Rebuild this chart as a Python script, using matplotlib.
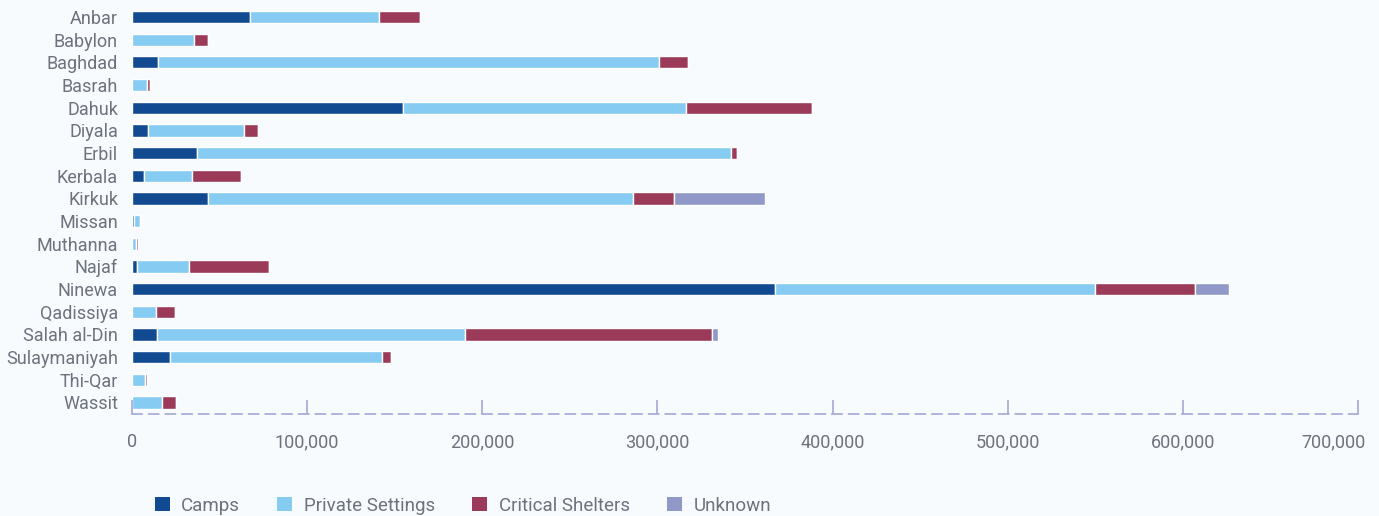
import numpy as np
import matplotlib.pyplot as plt
import matplotlib.transforms as mtransforms
from matplotlib.ticker import FuncFormatter
from matplotlib.patches import Patch

plt.rcParams['font.family'] = ['Roboto', 'DejaVu Sans']

# governorates, top to bottom
governorates = ["Anbar", "Babylon", "Baghdad", "Basrah", "Dahuk", "Diyala", "Erbil",
                "Kerbala", "Kirkuk", "Missan", "Muthanna", "Najaf", "Ninewa",
                "Qadissiya", "Salah al-Din", "Sulaymaniyah", "Thi-Qar", "Wassit"]

camps = [67400, 0, 14900, 0, 154800, 9000, 37000, 6900, 43400, 1100, 0, 2900,
         366900, 0, 14300, 21700, 0, 0]
private_settings = [73900, 35400, 286000, 8600, 161700, 54800, 305000, 27400, 242900,
                    3400, 2300, 29700, 182800, 13700, 176000, 121000, 7400, 17100]
critical_shelters = [23200, 8000, 16600, 1700, 72000, 8000, 3400, 28000, 23000,
                     600, 1300, 45700, 57300, 10900, 141000, 5100, 1000, 8000]
unknown = [0, 0, 0, 0, 0, 0, 0, 0, 52300, 0, 0, 0, 19300, 0, 3400, 0, 0, 0]

series_names = ["Camps", "Private Settings", "Critical Shelters", "Unknown"]
series_colors = ["#124a91", "#85cbf2", "#9b3a59", "#8f98c6"]

bg = "#f7fbfe"
txt = "#6d727c"
axis_col = "#a3a8d6"

fig = plt.figure(figsize=(13.79, 5.16), dpi=100, facecolor=bg)
ax = fig.add_axes([0.0957, 0.198, 0.889, 0.791], facecolor=bg)

y = np.arange(len(governorates))
left = np.zeros(len(governorates))
for vals, name, col in zip([camps, private_settings, critical_shelters, unknown],
                           series_names, series_colors):
    vals = np.array(vals, dtype=float)
    ax.barh(y, vals, left=left, height=0.54, color=col, edgecolor="white",
            linewidth=1.0, label=name)
    left += vals

ax.set_ylim(len(governorates) - 0.5, -0.5)
ax.set_xlim(0, 700000)
ax.set_yticks(y)
ax.set_yticklabels(governorates)
ax.set_xticks(np.arange(0, 700001, 100000))
ax.xaxis.set_major_formatter(FuncFormatter(lambda v, p: f"{int(v):,}"))

for s in ["top", "right", "left"]:
    ax.spines[s].set_visible(False)
ax.spines["bottom"].set_color(axis_col)
ax.spines["bottom"].set_linestyle((0, (6, 4)))
ax.spines["bottom"].set_linewidth(1.2)

ax.tick_params(axis="y", length=0, labelsize=13, labelcolor=txt, pad=10)
ax.tick_params(axis="x", direction="in", length=10, color=axis_col, width=1.2,
               labelsize=13, labelcolor=txt, pad=14)

# keep the last tick label inside the figure
fig.canvas.draw()
last = ax.get_xticklabels()[-1]
last.set_horizontalalignment("right")
last.set_transform(last.get_transform() + mtransforms.ScaledTranslation(8 / 100, 0, fig.dpi_scale_trans))

handles = [Patch(facecolor=c, edgecolor="none") for c in series_colors]
fig.legend(handles, series_names, loc="lower left", bbox_to_anchor=(0.1, -0.03),
           ncol=4, frameon=False, fontsize=13.5, labelcolor=txt,
           handlelength=0.8, handleheight=0.7, columnspacing=2.0, handletextpad=0.6)

fig.savefig("out.png", dpi=100, facecolor=bg)
